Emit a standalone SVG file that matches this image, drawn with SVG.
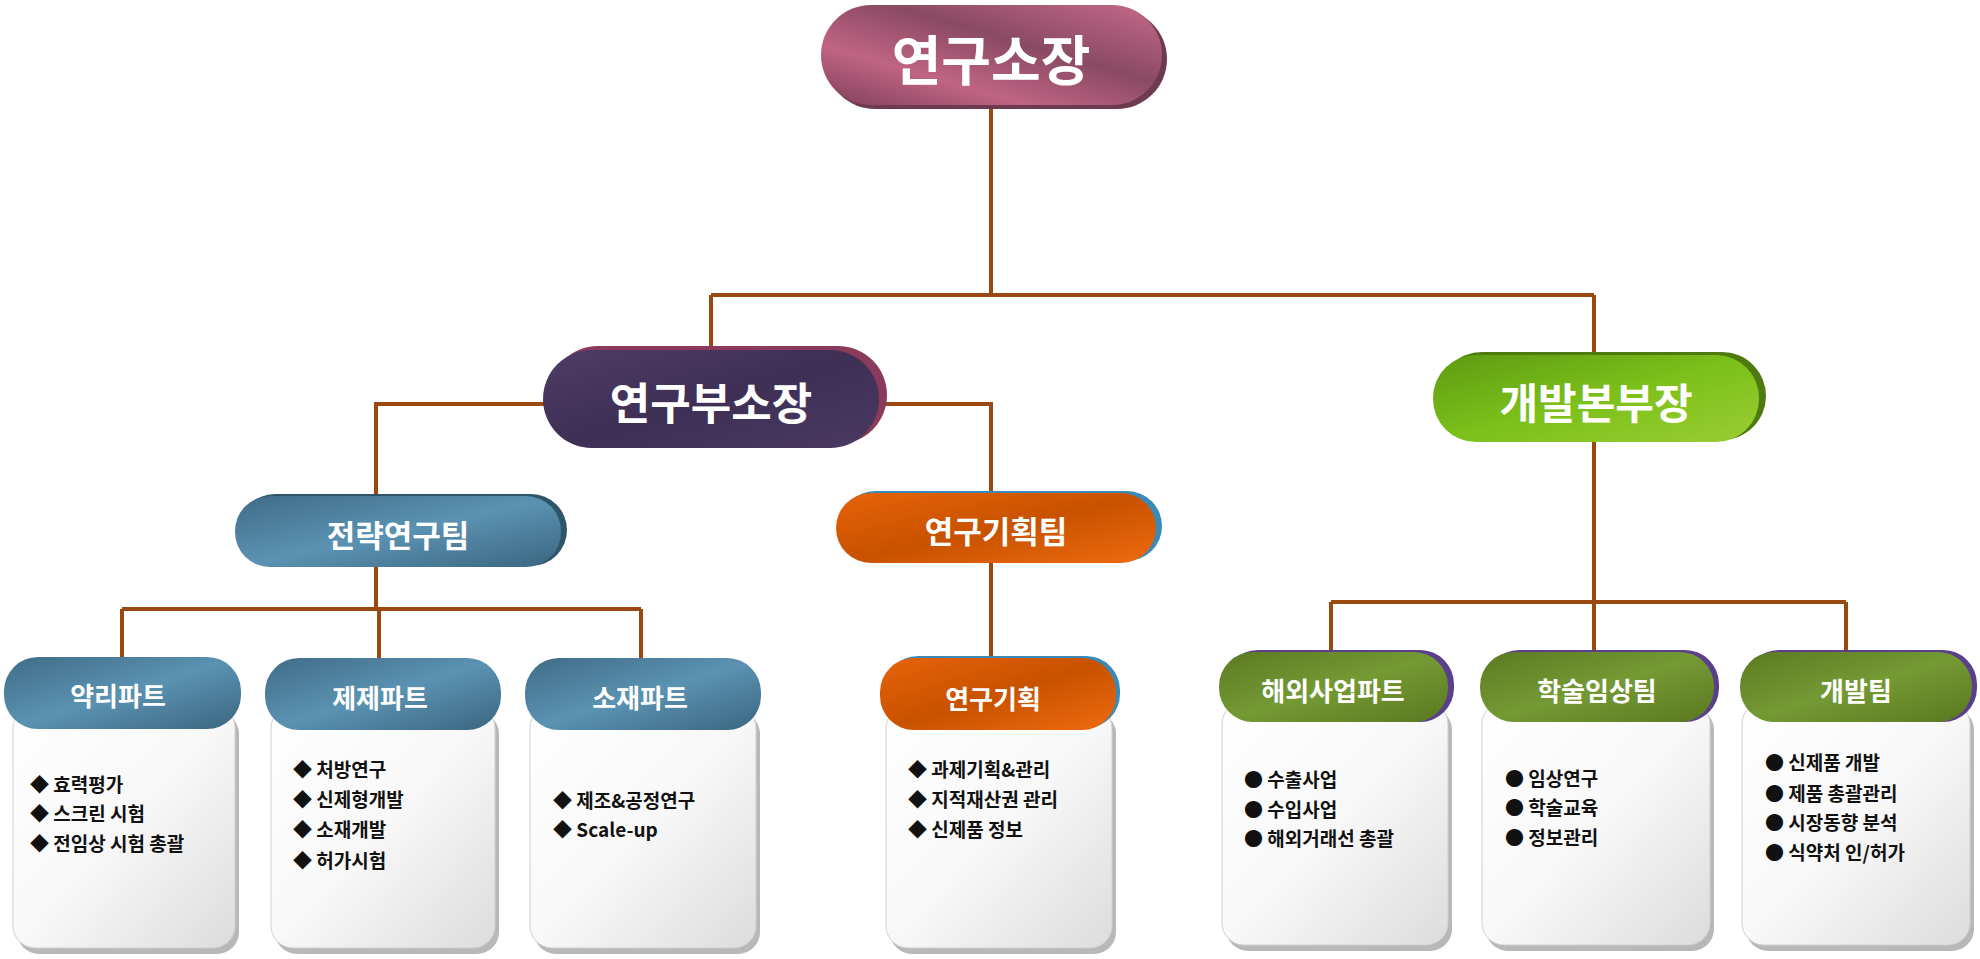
<svg xmlns="http://www.w3.org/2000/svg" width="1980" height="959" viewBox="0 0 1980 959">
<defs>
<linearGradient id="gPink" x1="0" y1="1" x2="1" y2="0"><stop offset="0" stop-color="#7e4058"/><stop offset="0.3" stop-color="#c06484"/><stop offset="0.6" stop-color="#8a4a63"/><stop offset="1" stop-color="#c56a8a"/></linearGradient>
<linearGradient id="gPurple" x1="0" y1="0" x2="1" y2="1"><stop offset="0" stop-color="#4e3d66"/><stop offset="0.5" stop-color="#3e2f55"/><stop offset="1" stop-color="#4a3a62"/></linearGradient>
<linearGradient id="gGreen" x1="0" y1="0" x2="1" y2="1"><stop offset="0" stop-color="#5e9a12"/><stop offset="0.5" stop-color="#7cc01a"/><stop offset="1" stop-color="#9acd32"/></linearGradient>
<linearGradient id="gBlue" x1="0" y1="0" x2="1" y2="1"><stop offset="0" stop-color="#3f6c87"/><stop offset="0.5" stop-color="#5b92b2"/><stop offset="1" stop-color="#3a6680"/></linearGradient>
<linearGradient id="gOrange" x1="0" y1="0" x2="1" y2="1"><stop offset="0" stop-color="#e8620a"/><stop offset="0.5" stop-color="#c85200"/><stop offset="1" stop-color="#ef6a10"/></linearGradient>
<linearGradient id="gOlive" x1="0" y1="0" x2="1" y2="1"><stop offset="0" stop-color="#5c7a22"/><stop offset="0.5" stop-color="#749a34"/><stop offset="1" stop-color="#5a7820"/></linearGradient>
<linearGradient id="gBody" x1="0" y1="0" x2="1" y2="1"><stop offset="0" stop-color="#ffffff"/><stop offset="0.5" stop-color="#f8f8f8"/><stop offset="1" stop-color="#dcdcdc"/></linearGradient>
</defs>
<style>
.ln{stroke:#9a4a10;stroke-width:4;fill:none}
.t{font-family:"Noto Sans CJK KR","Noto Sans",sans-serif;font-weight:bold;fill:#fff;text-anchor:middle;dominant-baseline:central}
.b{font-family:"Noto Sans CJK KR","Noto Sans",sans-serif;font-weight:bold;fill:#111;font-size:19px;dominant-baseline:central}
.sh{fill:#b8b8b8}
.body{fill:url(#gBody);stroke:#d0d0d0;stroke-width:1}
</style>
<rect width="1980" height="959" fill="#fff"/>
<g id="connectors">
<path class="ln" d="M991 105V295M711 295H1594M711 295V349M1594 295V355"/>
<path class="ln" d="M620 404H376V495M780 404H991V492"/>
<path class="ln" d="M376 567V609M122 609H641M122 609V657M379 609V658M641 609V658"/>
<path class="ln" d="M991 563V658"/>
<path class="ln" d="M1594 442V602M1331 602H1846M1331 602V652M1594 602V652M1846 602V652"/>
</g>
<g id="n-director">
<rect x="825" y="9" width="342" height="100" rx="50" fill="#6e3a50"/>
<rect x="821" y="5" width="341" height="100" rx="50" fill="url(#gPink)"/>
<text class="t" x="991" y="57" font-size="54">연구소장</text>
</g>
<g id="n-vice">
<rect x="549" y="346" width="338" height="98" rx="49" fill="#8a3a5a"/>
<rect x="543" y="350" width="336" height="98" rx="49" fill="url(#gPurple)"/>
<text class="t" x="711" y="401" font-size="44">연구부소장</text>
</g>
<g id="n-dev">
<rect x="1438" y="352" width="328" height="88" rx="44" fill="#4e7a10"/>
<rect x="1433" y="355" width="326" height="87" rx="43" fill="url(#gGreen)"/>
<text class="t" x="1596" y="400" font-size="42">개발본부장</text>
</g>
<g id="n-strategy">
<rect x="239" y="494" width="328" height="72" rx="36" fill="#2f556b"/>
<rect x="235" y="496" width="326" height="71" rx="35" fill="url(#gBlue)"/>
<text class="t" x="398" y="533" font-size="31">전략연구팀</text>
</g>
<g id="n-planning">
<rect x="840" y="491" width="322" height="70" rx="35" fill="#3a8ab8"/>
<rect x="836" y="493" width="320" height="70" rx="35" fill="url(#gOrange)"/>
<text class="t" x="996" y="529" font-size="31">연구기획팀</text>
</g>
<g id="n-pharm">
<rect class="sh" x="17" y="712" width="222" height="242" rx="22"/>
<rect class="body" x="13" y="706" width="222" height="242" rx="22"/>
<rect x="4" y="657" width="237" height="72" rx="34" fill="url(#gBlue)"/>
<text class="t" x="118" y="694" font-size="26">약리파트</text>
<text class="b" x="30" y="783">◆ 효력평가</text>
<text class="b" x="30" y="812">◆ 스크린 시험</text>
<text class="b" x="30" y="842">◆ 전임상 시험 총괄</text>
</g>
<g id="n-formul">
<rect class="sh" x="275" y="712" width="224" height="242" rx="22"/>
<rect class="body" x="271" y="706" width="224" height="242" rx="22"/>
<rect x="265" y="658" width="236" height="72" rx="34" fill="url(#gBlue)"/>
<text class="t" x="380" y="696" font-size="26">제제파트</text>
<text class="b" x="293" y="768">◆ 처방연구</text>
<text class="b" x="293" y="798">◆ 신제형개발</text>
<text class="b" x="293" y="828">◆ 소재개발</text>
<text class="b" x="293" y="859">◆ 허가시험</text>
</g>
<g id="n-material">
<rect class="sh" x="534" y="712" width="226" height="242" rx="22"/>
<rect class="body" x="530" y="706" width="226" height="242" rx="22"/>
<rect x="525" y="658" width="236" height="72" rx="34" fill="url(#gBlue)"/>
<text class="t" x="640" y="696" font-size="26">소재파트</text>
<text class="b" x="553" y="799">◆ 제조&amp;공정연구</text>
<text class="b" x="553" y="828">◆ Scale-up</text>
</g>
<g id="n-plan">
<rect class="sh" x="890" y="712" width="226" height="242" rx="22"/>
<rect class="body" x="886" y="706" width="226" height="242" rx="22"/>
<rect x="884" y="656" width="236" height="72" rx="34" fill="#3a8ab8"/>
<rect x="880" y="658" width="236" height="72" rx="34" fill="url(#gOrange)"/>
<text class="t" x="993" y="697" font-size="26">연구기획</text>
<text class="b" x="908" y="768">◆ 과제기획&amp;관리</text>
<text class="b" x="908" y="798">◆ 지적재산권 관리</text>
<text class="b" x="908" y="828">◆ 신제품 정보</text>
</g>
<g id="n-overseas">
<rect class="sh" x="1226" y="708" width="226" height="243" rx="22"/>
<rect class="body" x="1222" y="702" width="226" height="243" rx="22"/>
<rect x="1224" y="650" width="230" height="72" rx="34" fill="#5a3f8a"/>
<rect x="1219" y="652" width="229" height="70" rx="34" fill="url(#gOlive)"/>
<text class="t" x="1333" y="689" font-size="26">해외사업파트</text>
<text class="b" x="1244" y="778">●  수출사업</text>
<text class="b" x="1244" y="808">●  수입사업</text>
<text class="b" x="1244" y="837">●  해외거래선 총괄</text>
</g>
<g id="n-clinical">
<rect class="sh" x="1486" y="708" width="228" height="243" rx="22"/>
<rect class="body" x="1482" y="702" width="228" height="243" rx="22"/>
<rect x="1485" y="650" width="234" height="72" rx="34" fill="#5a3f8a"/>
<rect x="1480" y="652" width="234" height="70" rx="34" fill="url(#gOlive)"/>
<text class="t" x="1597" y="689" font-size="26">학술임상팀</text>
<text class="b" x="1505" y="777">●  임상연구</text>
<text class="b" x="1505" y="806">●  학술교육</text>
<text class="b" x="1505" y="836">●  정보관리</text>
</g>
<g id="n-devteam">
<rect class="sh" x="1746" y="708" width="228" height="243" rx="22"/>
<rect class="body" x="1742" y="702" width="228" height="243" rx="22"/>
<rect x="1745" y="650" width="232" height="72" rx="34" fill="#5a3f8a"/>
<rect x="1740" y="652" width="232" height="70" rx="34" fill="url(#gOlive)"/>
<text class="t" x="1856" y="689" font-size="26">개발팀</text>
<text class="b" x="1765" y="761">●  신제품 개발</text>
<text class="b" x="1765" y="792">●  제품 총괄관리</text>
<text class="b" x="1765" y="821">●  시장동향 분석</text>
<text class="b" x="1765" y="851">●  식약처 인/허가</text>
</g>
</svg>
